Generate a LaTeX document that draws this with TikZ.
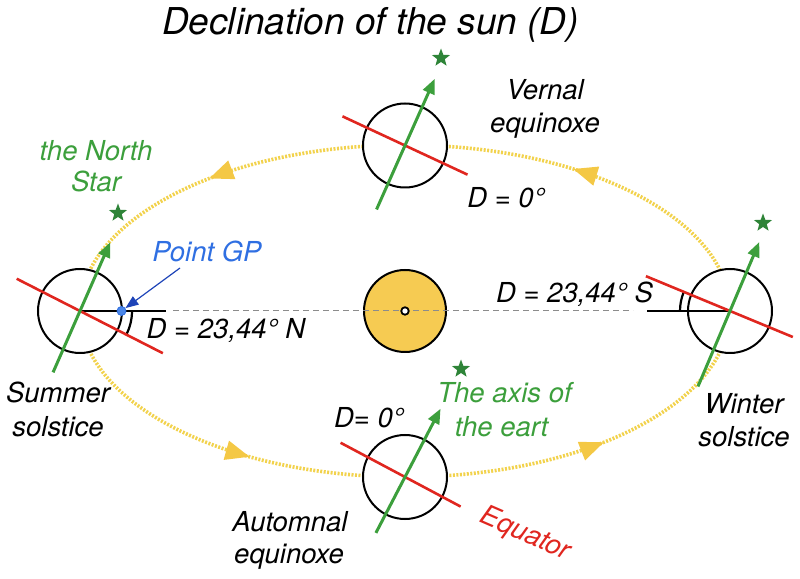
\documentclass[tikz,border=0pt]{standalone}
\usepackage{fontspec}
\setmainfont{TeX Gyre Heros}
\usetikzlibrary{calc,shapes.geometric,arrows.meta}
\definecolor{axisgreen}{HTML}{3C9F3C}
\definecolor{stargreen}{HTML}{2E8438}
\definecolor{eqred}{HTML}{E0261F}
\definecolor{orbyellow}{HTML}{F2D24C}
\definecolor{orbarrow}{HTML}{F4C845}
\definecolor{sunfill}{HTML}{F6CB52}
\definecolor{gpblue}{HTML}{2F6FE2}
\definecolor{gpfill}{HTML}{4A86E8}
\definecolor{gpdark}{HTML}{1E44B8}
\definecolor{dashgray}{HTML}{8C8C8C}
\begin{document}
\begin{tikzpicture}[x=1pt,y=1pt,
 earth/.style={circle, draw=black, fill=white, line width=2pt, minimum size=84pt, inner sep=0pt},
 sunbody/.style={circle, draw=black, fill=sunfill, line width=2pt, minimum size=82pt, inner sep=0pt},
 tiltaxis/.style={draw=axisgreen, line width=3pt, -{Triangle[length=15pt,width=12pt]}},
 equator/.style={draw=eqred, line width=2.6pt},
 plane/.style={draw=black, line width=2.8pt},
 anglemark/.style={draw=black, line width=2.2pt},
 northstar/.style={star, star points=5, star point ratio=2.4, fill=stargreen, minimum size=19pt, inner sep=0pt},
 orbit/.style={draw=orbyellow, line width=3.6pt, dash pattern=on 2pt off 1.5pt},
 sunline/.style={draw=dashgray, line width=1pt, dash pattern=on 6pt off 4pt},
 lab/.style={font=\fontsize{27.5}{31}\selectfont\itshape, anchor=base, inner sep=0pt},
 orbhead/.pic={\fill[orbarrow] (0,0) -- (-24,10) -- (-24,-10) -- cycle;}
]
\useasboundingbox (0,0) rectangle (800,578);

% title
\node[font=\fontsize{37}{40}\selectfont\itshape, anchor=base, inner sep=0pt] (title) at (370.5,543) {Declination of the sun (D)};

% orbit
\coordinate (S) at (405,267);
\draw[orbit] (S) ellipse [x radius=325pt, y radius=166pt];
\pic[rotate=201] at ($(S)+(127:325 and 166)$) {orbhead};
\pic[rotate=162.8] at ($(S)+(58.8:325 and 166)$) {orbhead};
\pic[rotate=-15.6] at ($(S)+(241.4:325 and 166)$) {orbhead};
\pic[rotate=21.5] at ($(S)+(307.7:325 and 166)$) {orbhead};

% sun
\node[sunbody] (sun) at (S) {};
\coordinate (dl) at (173,267);
\coordinate (dr) at (633,267);
\draw[sunline] (dl) -- (dr);
\node[circle, draw=black, fill=white, line width=1.8pt, minimum size=7.5pt, inner sep=0pt] (core) at (S) {};

% earths
\node[earth] (L) at (80,267) {};
\node[earth] (R) at (730,267) {};
\node[earth] (T) at (405,432.5) {};
\node[earth] (B) at (405,101) {};

% horizontal planes and angle marks
\coordinate (Lh) at (166,267);
\coordinate (Rh) at (647,267);
\draw[plane] (L.center) -- (Lh);
\draw[plane] (Rh) -- (R.center);
\draw[anglemark] ($(L)+(0:52)$) arc[start angle=0, end angle=-27, radius=52pt];
\draw[anglemark] ($(R)+(157.5:50)$) arc[start angle=157.5, end angle=180, radius=50pt];

% equators
\draw[equator] ($(L)+(153:71)$) -- ($(L)+(-27:93)$);
\draw[equator] ($(R)+(157.5:91)$) -- ($(R)+(-22.5:68)$);
\draw[equator] ($(T)+(155:69)$) -- ($(T)+(-25:69)$);
\draw[equator] ($(B)+(152:73)$) -- ($(B)+(-28:63)$);

% axes
\draw[tiltaxis] ($(L)+(246.3:67)$) -- ($(L)+(66.3:75)$);
\draw[tiltaxis] ($(R)+(247:82)$) -- ($(R)+(67:75)$);
\draw[tiltaxis] ($(T)+(246:70)$) -- ($(T)+(66:73)$);
\draw[tiltaxis] ($(B)+(242.5:63)$) -- ($(B)+(62.5:77)$);

% stars
\node[northstar] (starL) at (118,365) {};
\node[northstar] (starR) at (763,355) {};
\node[northstar] (starT) at (441,520) {};
\node[northstar] (starB) at (461,209) {};

% point GP
\node[circle, fill=gpfill, draw=gpblue, line width=0.8pt, minimum size=9pt, inner sep=0pt] (gp) at ($(L)+(41.5,0)$) {};
\coordinate (gpstart) at (180,310);
\draw[gpdark, line width=1.2pt, -{Triangle[length=13pt,width=10pt]}] (gpstart) -- (gp);

% labels
\node[lab, text=gpblue] (gplab) at (207,316) {Point GP};
\node[lab] (dN) at (226,239) {D = 23,44° N};
\node[lab] (dS) at (574.5,275) {D = 23,44° S};
\node[lab] (d0t) at (506,370) {D = 0°};
\node[lab] (d0b) at (369,150) {D= 0°};
\node[lab, text=axisgreen] (ns1) at (96,417) {the North};
\node[lab, text=axisgreen] (ns2) at (96,386) {Star};
\node[lab] (ve1) at (545,478) {Vernal};
\node[lab] (ve2) at (545,445) {equinoxe};
\node[lab] (ss1) at (58,175) {Summer};
\node[lab] (ss2) at (58,141) {solstice};
\node[lab] (ws1) at (744,164) {Winter};
\node[lab] (ws2) at (744,131) {solstice};
\node[lab] (ae1) at (290,46) {Automnal};
\node[lab] (ae2) at (289,15) {equinoxe};
\node[lab, text=axisgreen] (ax1) at (504.5,175) {The axis of};
\node[lab, text=axisgreen] (ax2) at (501.5,141) {the eart};
\node[font=\fontsize{27.5}{31}\selectfont\itshape, text=eqred, rotate=-23.44, inner sep=0pt] (eqlab) at (525,43.5) {Equator};
\end{tikzpicture}
\end{document}
